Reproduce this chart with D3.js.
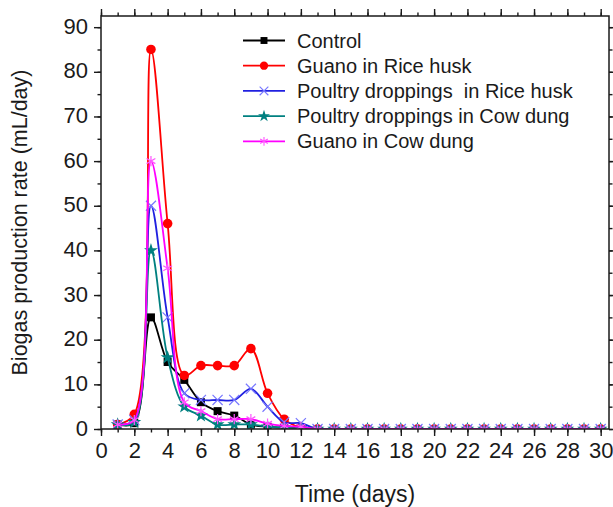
<!DOCTYPE html>
<html>
<head>
<meta charset="utf-8">
<script src="https://cdn.jsdelivr.net/npm/d3@7/dist/d3.min.js"></script>
<style>
  html, body { margin: 0; padding: 0; background: #fff; }
  svg { display: block; }
  text { font-family: "Liberation Sans", Arial, sans-serif; fill: #1a1a1a; }
</style>
</head>
<body>
<svg id="chart" width="613" height="507"></svg>
<script>
// ---- data ----
const days = d3.range(1, 31);
const zeros18 = new Array(18).fill(0);
const control      = [1, 1.3, 25, 15, 11, 6, 4, 3, 1, 0.5, 0.3, 0.2].concat(zeros18);
const guanoRice    = [1, 3.3, 85, 46, 12, 14.2, 14.2, 14.2, 18, 8, 2.2, 0.3].concat(zeros18);
const poultryRice  = [1, 2, 50, 25, 8, 6.5, 6.5, 6.5, 9, 5, 1.5, 1.3].concat(zeros18);
const poultryCow   = [1, 1.5, 40, 16, 5, 3, 1, 1, 1, 0.5, 0.3, 0.1].concat(zeros18);
const guanoCow     = [1, 2, 60, 36, 6, 4, 2.2, 2.2, 2.2, 1.2, 0.7, 0.5].concat(zeros18);

const seriesNames  = ["Control", "Guano in Rice husk", "Poultry droppings  in Rice husk",
                      "Poultry droppings in Cow dung", "Guano in Cow dung"];
const seriesValues = [control, guanoRice, poultryRice, poultryCow, guanoCow];
const seriesColors = ["#000000", "#ff0000", "#2020e0", "#008080", "#ff00ff"];

const xTicksMajor = d3.range(0, 31, 2);
const xTicksMinor = d3.range(0, 31, 1);
const yTicksMajor = d3.range(0, 91, 10);
const yTicksMinor = d3.range(0, 91, 5);

// ---- layout ----
const L = 101, R = 609, T = 16, B = 429;
const svg = d3.select("#chart");
const x = d3.scaleLinear().domain([0, 30.5]).range([L, R]);
const y = d3.scaleLinear().domain([0, 92.5]).range([B, T]);

svg.append("defs").append("clipPath").attr("id", "plotclip")
  .append("rect").attr("x", L).attr("y", T).attr("width", R - L).attr("height", B - T);

const symbolDefs = [
  {type: d3.symbolSquare, size: 64, filled: true},
  {type: d3.symbolCircle, size: 72, filled: true},
  {type: d3.symbolX, size: 68, filled: false},
  {type: d3.symbolStar, size: 60, filled: true},
  {type: d3.symbolAsterisk, size: 72, filled: false}
];
const symbolStroke = ["#000", "#ff0000", "#7777ff", "#008080", "#ff55ff"];

const dataG = svg.append("g").attr("clip-path", "url(#plotclip)");
const line = d3.line().x(d => x(d[0])).y(d => y(d[1])).curve(d3.curveCatmullRom.alpha(0.5));

seriesValues.forEach((vals, i) => {
  const pts = days.map((d, k) => [d, vals[k]]);
  const g = dataG.append("g");
  g.append("path").datum(pts)
    .attr("d", line)
    .attr("fill", "none")
    .attr("stroke", seriesColors[i])
    .attr("stroke-width", 1.8);
  const sd = symbolDefs[i];
  const sym = d3.symbol().type(sd.type).size(sd.size);
  g.selectAll("path.m").data(pts).join("path")
    .attr("class", "m")
    .attr("transform", d => `translate(${x(d[0])},${y(d[1])})`)
    .attr("d", sym)
    .attr("fill", sd.filled ? seriesColors[i] : "none")
    .attr("stroke", sd.filled ? "none" : symbolStroke[i])
    .attr("stroke-width", 1.2);
});

// ---- axes ----
const axG = svg.append("g");
const bottomMajor = d3.axisBottom(x).tickValues(xTicksMajor).tickSize(7).tickSizeOuter(0).tickPadding(6).tickFormat(d3.format("d"));
const bottomMinor = d3.axisBottom(x).tickValues(xTicksMinor).tickSize(3.5).tickSizeOuter(0).tickFormat("");
const topMajor = d3.axisTop(x).tickValues(xTicksMajor).tickSize(7).tickSizeOuter(0).tickFormat("");
const topMinor = d3.axisTop(x).tickValues(xTicksMinor).tickSize(3.5).tickSizeOuter(0).tickFormat("");
const leftMajor = d3.axisLeft(y).tickValues(yTicksMajor).tickSize(7).tickSizeOuter(0).tickPadding(6).tickFormat(d3.format("d"));
const leftMinor = d3.axisLeft(y).tickValues(yTicksMinor).tickSize(3.5).tickSizeOuter(0).tickFormat("");
const rightMajor = d3.axisRight(y).tickValues(yTicksMajor).tickSize(7).tickSizeOuter(0).tickFormat("");
const rightMinor = d3.axisRight(y).tickValues(yTicksMinor).tickSize(3.5).tickSizeOuter(0).tickFormat("");

function styleAxis(g) {
  g.select(".domain").remove();
  g.selectAll(".tick line").attr("stroke", "#1a1a1a").attr("stroke-width", 1.4);
  g.selectAll(".tick text").style("font-size", "22px").attr("fill", "#1a1a1a");
}
axG.append("g").attr("transform", `translate(0,${B})`).call(bottomMinor).call(styleAxis);
axG.append("g").attr("transform", `translate(0,${B})`).call(bottomMajor).call(styleAxis);
axG.append("g").attr("transform", `translate(0,${T})`).call(topMinor).call(styleAxis);
axG.append("g").attr("transform", `translate(0,${T})`).call(topMajor).call(styleAxis);
axG.append("g").attr("transform", `translate(${L},0)`).call(leftMinor).call(styleAxis);
axG.append("g").attr("transform", `translate(${L},0)`).call(leftMajor).call(styleAxis);
axG.append("g").attr("transform", `translate(${R},0)`).call(rightMinor).call(styleAxis);
axG.append("g").attr("transform", `translate(${R},0)`).call(rightMajor).call(styleAxis);

// nudge y labels slightly up as in the reference
axG.selectAll("text").filter(function() { return this.getAttribute("x") && +this.getAttribute("x") < 0; })
  .attr("dy", "0.28em");

svg.append("rect").attr("x", L).attr("y", T).attr("width", R - L).attr("height", B - T)
  .attr("fill", "none").attr("stroke", "#1a1a1a").attr("stroke-width", 1.5);

// ---- titles ----
svg.append("text").attr("x", 355).attr("y", 502)
  .attr("text-anchor", "middle").style("font-size", "23px").text("Time (days)");
svg.append("text")
  .attr("transform", `translate(27,${(T + B) / 2}) rotate(-90)`)
  .attr("text-anchor", "middle").style("font-size", "21.5px")
  .text("Biogas production rate (mL/day)");

// ---- legend ----
const legG = svg.append("g");
seriesNames.forEach((name, i) => {
  const ly = 40.5 + i * 25.2;
  legG.append("line").attr("x1", 243).attr("x2", 285).attr("y1", ly).attr("y2", ly)
    .attr("stroke", seriesColors[i]).attr("stroke-width", 1.8);
  const sd = symbolDefs[i];
  legG.append("path").attr("transform", `translate(264,${ly})`)
    .attr("d", d3.symbol().type(sd.type).size(sd.size * 0.75))
    .attr("fill", sd.filled ? seriesColors[i] : "none")
    .attr("stroke", sd.filled ? "none" : symbolStroke[i])
    .attr("stroke-width", 1.1);
  legG.append("text").attr("x", 297).attr("y", ly + 7)
    .style("font-size", "20px").style("white-space", "pre").text(name);
});
</script>
</body>
</html>
